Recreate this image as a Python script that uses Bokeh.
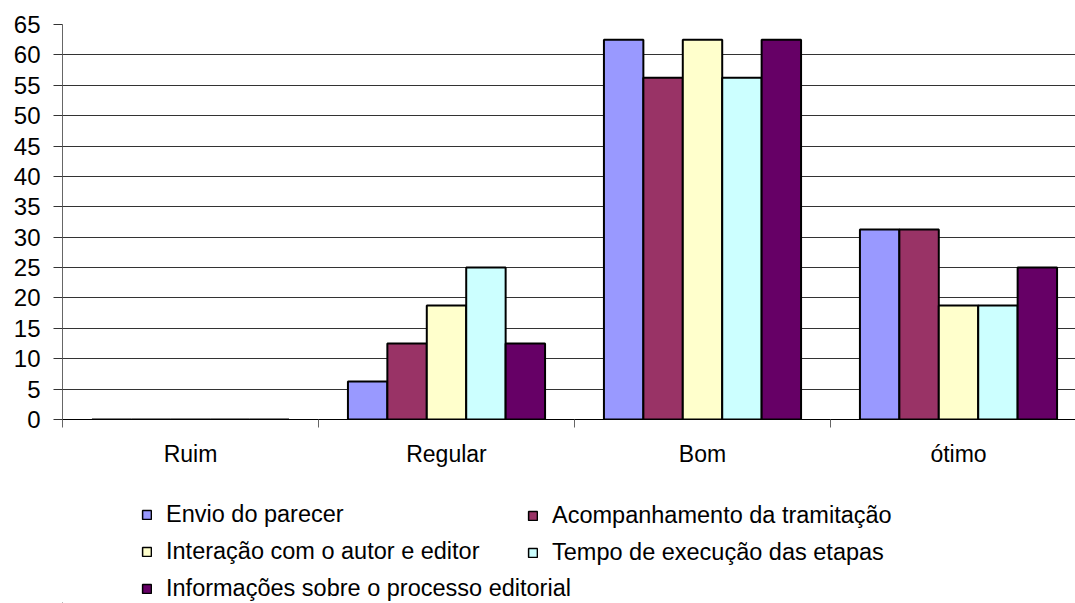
import numpy as np
from bokeh.plotting import figure
from bokeh.layouts import column
from bokeh.models import FixedTicker, Legend, LegendItem, Range1d, ColumnDataSource
from bokeh.embed import file_html
from bokeh.resources import INLINE

categories = ["Ruim", "Regular", "Bom", "ótimo"]
series_names = [
    "Envio do parecer",
    "Acompanhamento da tramitação",
    "Interação com o autor e editor",
    "Tempo de execução das etapas",
    "Informações sobre o processo editorial",
]
envio = [0, 6.25, 62.5, 31.25]
acompanhamento = [0, 12.5, 56.25, 31.25]
interacao = [0, 18.75, 62.5, 18.75]
tempo = [0, 25, 56.25, 18.75]
informacoes = [0, 12.5, 62.5, 25]
series_values = [envio, acompanhamento, interacao, tempo, informacoes]
colors = ["#9999FF", "#993366", "#FFFFCC", "#CCFFFF", "#660066"]
y_ticks = list(range(0, 70, 5))

FONT = "Liberation Sans"
W = 1075
LEFT = 62
cat_px = 256.0
frame_w = W - LEFT
H1 = 477
H2 = 603 - H1

p = figure(width=W, height=H1,
           x_range=Range1d(0, frame_w / cat_px), y_range=Range1d(0, 65),
           output_backend="svg", toolbar_location=None,
           min_border_left=LEFT, min_border_right=0, min_border_top=24, min_border_bottom=58)
p.outline_line_color = None
p.background_fill_color = "white"
p.border_fill_color = "white"

centers = np.arange(len(categories)) + 0.5
bar_w = 0.154
offsets = (np.arange(len(series_names)) - 2) * bar_w

for i, (name, vals, col) in enumerate(zip(series_names, series_values, colors)):
    src = ColumnDataSource(dict(x=centers + offsets[i], top=vals))
    p.vbar(x="x", top="top", width=bar_w, source=src,
           fill_color=col, line_color="black", line_width=2)

# axes
p.xgrid.visible = False
p.ygrid.ticker = FixedTicker(ticks=y_ticks)
p.ygrid.grid_line_color = "#333333"
p.ygrid.grid_line_width = 1

p.yaxis.ticker = FixedTicker(ticks=y_ticks)
p.yaxis.major_tick_out = 9
p.yaxis.major_tick_in = 0
p.yaxis.minor_tick_out = 0
p.yaxis.major_tick_line_color = "#333333"
p.yaxis.axis_line_color = "#666666"
p.yaxis.major_label_text_font = FONT
p.yaxis.major_label_text_font_size = "24px"
p.yaxis.major_label_text_color = "black"
p.yaxis.major_label_standoff = 13

p.xaxis.ticker = FixedTicker(ticks=list(centers), minor_ticks=list(range(len(categories))))
p.xaxis.major_label_overrides = {float(c): lab for c, lab in zip(centers, categories)}
p.xaxis.major_tick_out = 0
p.xaxis.major_tick_in = 0
p.xaxis.minor_tick_out = 8
p.xaxis.minor_tick_in = 0
p.xaxis.minor_tick_line_color = "#666666"
p.xaxis.axis_line_color = "black"
p.xaxis.major_label_text_font = FONT
p.xaxis.major_label_text_font_size = "23px"
p.xaxis.major_label_text_color = "black"
p.xaxis.major_label_standoff = 13

# legend panel (its frame is aligned with the chart's frame by the column layout)
p2 = figure(width=W, height=H2, x_range=Range1d(0, 1), y_range=Range1d(0, 1),
            output_backend="svg", toolbar_location=None,
            min_border_left=0, min_border_right=0, min_border_top=0, min_border_bottom=0)
p2.axis.visible = False
p2.grid.visible = False
p2.outline_line_color = None

leg_renderers = []
for name, col in zip(series_names, colors):
    # placeholder bar outside the visible range, only used for the legend swatch
    r = p2.vbar(x="x", top="top", width=0.01, source=ColumnDataSource(dict(x=[-5.0], top=[0.0])),
                fill_color=col, line_color="black", line_width=1.5)
    leg_renderers.append(r)


def make_legend(idx, loc):
    lg = Legend(items=[LegendItem(label=series_names[i], renderers=[leg_renderers[i]]) for i in idx],
                location=loc)
    lg.glyph_width = 11
    lg.glyph_height = 11
    lg.label_text_font = FONT
    lg.label_text_font_size = "23.5px"
    lg.label_text_color = "black"
    lg.label_standoff = 14
    lg.label_height = 22
    lg.spacing = 10
    lg.padding = 0
    lg.margin = 0
    lg.border_line_color = None
    lg.background_fill_alpha = 0
    return lg


p2.add_layout(make_legend([0, 2, 4], (141 - LEFT, 1)))
p2.add_layout(make_legend([1, 3], (527 - LEFT, 37)))

layout = column(p, p2, spacing=0)
open("out.html", "w").write(file_html(layout, INLINE))
